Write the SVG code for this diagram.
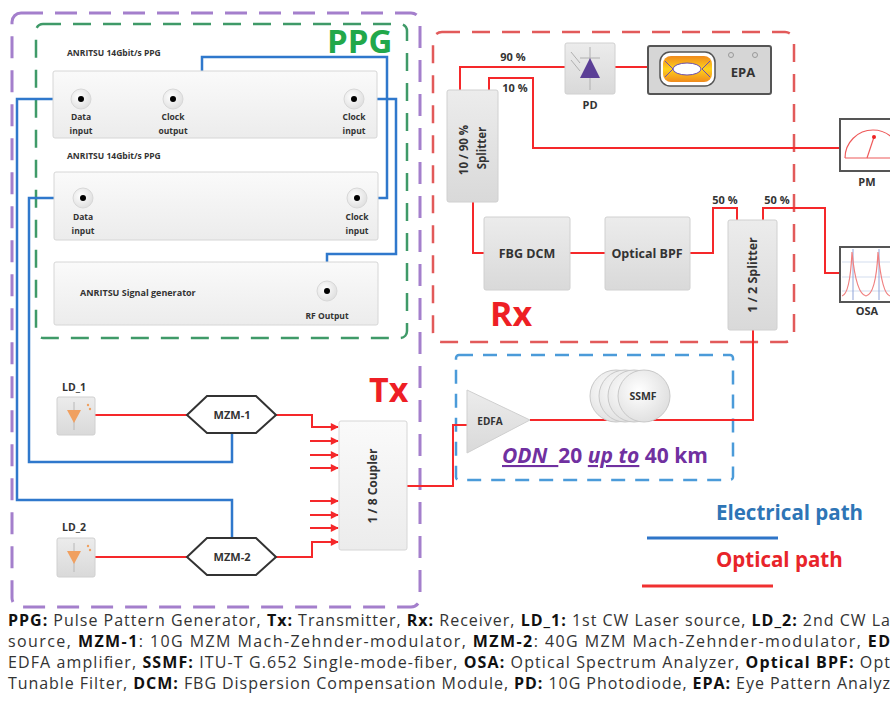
<svg xmlns="http://www.w3.org/2000/svg" width="890" height="704" viewBox="0 0 890 704">
<defs>
  <style>
    .lbl{font-family:"Open Sans","Liberation Sans",sans-serif;font-weight:bold;fill:#333}
    .sm{font-size:8.5px;text-anchor:middle}
    .opt{stroke:#f5282a;stroke-width:2;fill:none}
    .ele{stroke:#2f78cc;stroke-width:2.5;fill:none}
    .box{fill:url(#g);stroke:#d6d6d6;stroke-width:1}
    .dev{fill:url(#g2);stroke:#d0d0d0;stroke-width:1}
    .cap{font-family:"Open Sans","Liberation Sans",sans-serif;font-size:16px;fill:#333}
    .cap tspan.b{font-weight:bold;fill:#111}
  </style>
  <linearGradient id="g" x1="0" y1="0" x2="0" y2="1">
    <stop offset="0" stop-color="#fafafa"/><stop offset="1" stop-color="#ececec"/>
  </linearGradient>
  <linearGradient id="g2" x1="0" y1="0" x2="0" y2="1">
    <stop offset="0" stop-color="#ececec"/><stop offset="1" stop-color="#d9d9d9"/>
  </linearGradient>
  <radialGradient id="port" cx="0.4" cy="0.4" r="0.7">
    <stop offset="0" stop-color="#ffffff"/><stop offset="1" stop-color="#dcdcdc"/>
  </radialGradient>
  <linearGradient id="eye" x1="0" y1="0" x2="0" y2="1">
    <stop offset="0" stop-color="#f08a1c"/><stop offset="0.5" stop-color="#ffd21a"/><stop offset="1" stop-color="#f08a1c"/>
  </linearGradient>
  <marker id="arr" viewBox="0 0 10 10" refX="9" refY="5" markerWidth="4.5" markerHeight="4" orient="auto">
    <path d="M0,0 L10,5 L0,10 z" fill="#f5282a"/>
  </marker>
  <g id="portsym">
    <circle r="10" fill="url(#port)" stroke="#d8d8d8"/>
    <circle r="3" fill="#000"/>
  </g>
</defs>

<rect width="890" height="704" fill="#fff"/>

<!-- group frames -->
<g id="frames" fill="none">
  <rect x="12" y="13" width="408" height="594" rx="9" stroke="#a47fcc" stroke-width="3" stroke-dasharray="22 12"/>
  <rect x="36" y="24" width="371" height="314" rx="7" stroke="#3f9a68" stroke-width="2.5" stroke-dasharray="18 12"/>
  <rect x="433" y="32" width="361" height="310" rx="9" stroke="#e25a5a" stroke-width="2.5" stroke-dasharray="18 12"/>
  <rect x="456" y="355" width="277" height="125" rx="3" stroke="#4b9bd9" stroke-width="2.5" stroke-dasharray="14 10"/>
</g>

<!-- section titles -->
<g id="titles" font-family="'Open Sans','Liberation Sans',sans-serif" font-weight="bold">
  <text x="327" y="53" font-size="33" fill="#22a84a">PPG</text>
  <text x="490" y="326" font-size="34" fill="#ee1f25">Rx</text>
  <text x="369" y="402" font-size="34" fill="#ee1f25">Tx</text>
</g>

<!-- connectors -->
<g id="connectors">
  <!-- electrical -->
  <path class="ele" d="M81,99 H17 V500 H232 V538"/>
  <path class="ele" d="M83,198 H29 V462 H232 V433"/>
  <path class="ele" d="M173,99 H202 V57 H387 V198 H357"/>
  <path class="ele" d="M354,99 H396 V254 H327 V291"/>
  <!-- optical -->
  <path class="opt" d="M460,90 V67 H565"/>
  <path class="opt" d="M489,90 V78 H533 V148 H842"/>
  <path class="opt" d="M615,67 H648"/>
  <path class="opt" d="M473,202 V253 H484"/>
  <path class="opt" d="M570,253 H605"/>
  <path class="opt" d="M690,253 H713 V208 H737 V220"/>
  <path class="opt" d="M763,220 V208 H825 V273 H840"/>
  <path class="opt" d="M753,330 V420 H530"/>
  <path class="opt" d="M407,486 H453 V425 H467"/>
  <path class="opt" d="M95,415 H187"/>
  <path class="opt" d="M95,557 H187"/>
  <path class="opt" d="M276,415 H312 V427 H338" marker-end="url(#arr)"/>
  <path class="opt" d="M276,557 H312 V542 H338" marker-end="url(#arr)"/>
  <path class="opt" d="M310,441 H338" marker-end="url(#arr)"/>
  <path class="opt" d="M310,455 H338" marker-end="url(#arr)"/>
  <path class="opt" d="M310,468 H338" marker-end="url(#arr)"/>
  <path class="opt" d="M310,501 H338" marker-end="url(#arr)"/>
  <path class="opt" d="M310,515 H338" marker-end="url(#arr)"/>
  <path class="opt" d="M310,528 H338" marker-end="url(#arr)"/>
</g>

<!-- link labels -->
<g id="linklabels" class="lbl" font-size="11">
  <text x="513" y="61" text-anchor="middle">90 %</text>
  <text x="515" y="92" text-anchor="middle">10 %</text>
  <text x="725" y="204" text-anchor="middle">50 %</text>
  <text x="777" y="204" text-anchor="middle">50 %</text>
</g>

<!-- PPG 1 -->
<g id="ppg1">
  <text class="lbl" x="67" y="56" font-size="8.5">ANRITSU 14Gbit/s PPG</text>
  <rect class="box" x="53" y="71" width="324" height="67" rx="2"/>
  <use href="#portsym" x="81" y="99"/>
  <use href="#portsym" x="173" y="99"/>
  <use href="#portsym" x="354" y="99"/>
  <g class="lbl sm">
    <text x="81" y="120">Data</text><text x="81" y="134">input</text>
    <text x="173" y="120">Clock</text><text x="173" y="134">output</text>
    <text x="354" y="120">Clock</text><text x="354" y="134">input</text>
  </g>
</g>

<!-- PPG 2 -->
<g id="ppg2">
  <text class="lbl" x="67" y="159" font-size="8.5">ANRITSU 14Gbit/s PPG</text>
  <rect class="box" x="54" y="172" width="324" height="68" rx="2"/>
  <use href="#portsym" x="83" y="198"/>
  <use href="#portsym" x="357" y="198"/>
  <g class="lbl sm">
    <text x="83" y="220">Data</text><text x="83" y="234">input</text>
    <text x="357" y="220">Clock</text><text x="357" y="234">input</text>
  </g>
</g>

<!-- signal generator -->
<g id="siggen">
  <rect class="box" x="54" y="262" width="324" height="63" rx="2"/>
  <text class="lbl" x="80" y="296" font-size="9">ANRITSU Signal generator</text>
  <use href="#portsym" x="327" y="291"/>
  <text class="lbl sm" x="327" y="319">RF Output</text>
</g>

<!-- 10/90 splitter -->
<g id="splitter1090">
  <rect class="dev" x="447" y="90" width="51" height="112" rx="2"/>
  <g class="lbl" font-size="11.5" text-anchor="middle">
    <text transform="translate(468,150) rotate(-90)">10 / 90 %</text>
    <text transform="translate(486,148) rotate(-90)">Splitter</text>
  </g>
</g>

<!-- photodiode -->
<g id="pd">
  <rect class="dev" x="565" y="43" width="50" height="51" rx="2"/>
  <line x1="590" y1="47" x2="590" y2="90" stroke="#b0b0b0" stroke-width="1"/>
  <line x1="580" y1="58" x2="600" y2="58" stroke="#b0b0b0" stroke-width="1"/>
  <line x1="571" y1="52" x2="580" y2="63" stroke="#b0b0b0" stroke-width="1"/>
  <line x1="571" y1="60" x2="580" y2="71" stroke="#b0b0b0" stroke-width="1"/>
  <path d="M590,58 L600,78 L580,78 z" fill="#5b3f96"/>
  <text class="lbl" x="590" y="109" font-size="11" text-anchor="middle">PD</text>
</g>

<!-- eye pattern analyzer -->
<g id="epa">
  <rect x="648" y="46" width="123" height="48" rx="2" fill="#d6d6d6" stroke="#555" stroke-width="2"/>
  <rect x="660" y="52" width="55" height="34" rx="10" fill="#fff" stroke="#555" stroke-width="1.5"/>
  <rect x="663" y="56" width="49" height="26" rx="8" fill="url(#eye)"/>
  <ellipse cx="687" cy="69" rx="14" ry="6" fill="#fff" stroke="#6a4fb0" stroke-width="1"/>
  <path d="M665,61 L673,69 L665,77 M710,61 L702,69 L710,77" stroke="#6a4fb0" stroke-width="1" fill="none"/>
  <circle cx="731" cy="55" r="2.5" fill="none" stroke="#999"/>
  <circle cx="755" cy="55" r="2.5" fill="none" stroke="#999"/>
  <text class="lbl" x="743" y="77" font-size="13" text-anchor="middle">EPA</text>
</g>

<!-- power meter -->
<g id="pm">
  <rect x="840" y="119" width="60" height="52" fill="#fff" stroke="#555" stroke-width="2"/>
  <path d="M845,158 A28,28 0 0 1 901,158" fill="none" stroke="#ee5a5a" stroke-width="1.2"/>
  <line x1="845" y1="158" x2="890" y2="158" stroke="#ee5a5a" stroke-width="1.2"/>
  <line x1="867" y1="158" x2="874" y2="137" stroke="#ee5a5a" stroke-width="1.2"/>
  <circle cx="874" cy="137" r="2" fill="#e22"/>
  <text class="lbl" x="867" y="186" font-size="11" text-anchor="middle">PM</text>
</g>

<!-- FBG DCM -->
<g id="fbgdcm">
  <rect class="dev" x="484" y="217" width="86" height="73" rx="2"/>
  <text class="lbl" x="527" y="258" font-size="12.5" text-anchor="middle">FBG DCM</text>
</g>

<!-- optical BPF -->
<g id="bpf">
  <rect class="dev" x="605" y="217" width="85" height="73" rx="2"/>
  <text class="lbl" x="647" y="258" font-size="12.5" text-anchor="middle">Optical BPF</text>
</g>

<!-- 1/2 splitter -->
<g id="splitter12">
  <rect class="dev" x="728" y="220" width="49" height="110" rx="2"/>
  <text class="lbl" transform="translate(757,275) rotate(-90)" font-size="12.5" text-anchor="middle">1 / 2 Splitter</text>
</g>

<!-- optical spectrum analyzer -->
<g id="osa">
  <rect x="840" y="247" width="60" height="55" fill="#fff" stroke="#555" stroke-width="2"/>
  <g stroke="#c8d4ea" stroke-width="0.8">
    <line x1="842" y1="262" x2="890" y2="262"/><line x1="842" y1="277" x2="890" y2="277"/><line x1="842" y1="291" x2="890" y2="291"/>
  </g>
  <line x1="853" y1="249" x2="853" y2="300" stroke="#8fa3d8" stroke-width="1"/>
  <line x1="879" y1="249" x2="879" y2="300" stroke="#8fa3d8" stroke-width="1"/>
  <path d="M842,296 Q850,294 852,252 Q856,294 866,296 Q876,294 878,252 Q882,294 890,296" fill="none" stroke="#f08080" stroke-width="1.2"/>
  <text class="lbl" x="867" y="315" font-size="11" text-anchor="middle">OSA</text>
</g>

<!-- EDFA -->
<g id="edfa">
  <path d="M467,390 L530,420 L467,453 z" fill="url(#g2)" stroke="#cfcfcf"/>
  <text class="lbl" x="490" y="425" font-size="10" text-anchor="middle">EDFA</text>
</g>

<!-- SSMF spools -->
<g id="ssmf" fill="url(#port)" stroke="#c8c8c8">
  <circle cx="616" cy="396" r="26"/>
  <circle cx="625" cy="396" r="26"/>
  <circle cx="634" cy="396" r="26"/>
  <circle cx="644" cy="396" r="26"/>
  <text class="lbl" x="643" y="400" font-size="10.5" text-anchor="middle" stroke="none">SSMF</text>
</g>

<!-- ODN label -->
<g id="odn">
  <text x="502" y="463" font-family="'Open Sans','Liberation Sans',sans-serif" font-size="21" font-weight="bold" fill="#7030a0"><tspan font-style="italic" text-decoration="underline">ODN&#160;&#160;</tspan>20 <tspan font-style="italic" text-decoration="underline">up to</tspan> 40 km</text>
</g>

<!-- laser 1 -->
<g id="ld1">
  <text class="lbl" x="74" y="391" font-size="10.5" text-anchor="middle">LD_1</text>
  <rect class="dev" x="57" y="397" width="38" height="38" rx="2"/>
  <line x1="74" y1="402" x2="74" y2="430" stroke="#b8b8b8" stroke-width="1"/>
  <path d="M67,410 L81,410 L74,423 z" fill="#f0a060"/>
  <circle cx="88" cy="405" r="1.2" fill="#f0a060"/><circle cx="90" cy="409" r="1.2" fill="#f0a060"/>
</g>

<!-- laser 2 -->
<g id="ld2">
  <text class="lbl" x="74" y="531" font-size="10.5" text-anchor="middle">LD_2</text>
  <rect class="dev" x="57" y="538" width="38" height="39" rx="2"/>
  <line x1="74" y1="543" x2="74" y2="572" stroke="#b8b8b8" stroke-width="1"/>
  <path d="M67,551 L81,551 L74,564 z" fill="#f0a060"/>
  <circle cx="88" cy="546" r="1.2" fill="#f0a060"/><circle cx="90" cy="550" r="1.2" fill="#f0a060"/>
</g>

<!-- modulator 1 -->
<g id="mzm1">
  <path d="M187,415 L207,396 L256,396 L276,415 L256,433 L207,433 z" fill="#fff" stroke="#333" stroke-width="2"/>
  <text class="lbl" x="232" y="419" font-size="11" text-anchor="middle">MZM-1</text>
</g>

<!-- modulator 2 -->
<g id="mzm2">
  <path d="M187,557 L207,538 L256,538 L276,557 L256,575 L207,575 z" fill="#fff" stroke="#333" stroke-width="2"/>
  <text class="lbl" x="232" y="561" font-size="11" text-anchor="middle">MZM-2</text>
</g>

<!-- 1/8 coupler -->
<g id="coupler">
  <rect class="box" x="339" y="421" width="68" height="129" rx="2"/>
  <text class="lbl" transform="translate(377,486) rotate(-90)" font-size="12" text-anchor="middle">1 / 8 Coupler</text>
</g>

<!-- legend -->
<g id="legend" font-family="'Open Sans','Liberation Sans',sans-serif" font-weight="bold" font-size="20.5">
  <text x="716" y="520" fill="#2e75b6">Electrical path</text>
  <line x1="647" y1="538" x2="778" y2="538" stroke="#2e75c8" stroke-width="3"/>
  <text x="716" y="567" fill="#e8242a">Optical path</text>
  <line x1="642" y1="586" x2="773" y2="586" stroke="#f03030" stroke-width="3"/>
</g>

<!-- caption -->
<g id="caption" class="cap">
  <text x="8" y="626" textLength="882" lengthAdjust="spacing"><tspan class="b">PPG:</tspan> Pulse Pattern Generator, <tspan class="b">Tx:</tspan> Transmitter, <tspan class="b">Rx:</tspan> Receiver, <tspan class="b">LD_1:</tspan> 1st CW Laser source, <tspan class="b">LD_2:</tspan> 2nd CW La</text>
  <text x="8" y="647" textLength="882" lengthAdjust="spacing">source, <tspan class="b">MZM-1</tspan>: 10G MZM Mach-Zehnder-modulator, <tspan class="b">MZM-2</tspan>: 40G MZM Mach-Zehnder-modulator, <tspan class="b">ED</tspan></text>
  <text x="8" y="668" textLength="882" lengthAdjust="spacing">EDFA amplifier, <tspan class="b">SSMF:</tspan> ITU-T G.652 Single-mode-fiber, <tspan class="b">OSA:</tspan> Optical Spectrum Analyzer, <tspan class="b">Optical BPF:</tspan> Opt</text>
  <text x="8" y="689" textLength="882" lengthAdjust="spacing">Tunable Filter, <tspan class="b">DCM:</tspan> FBG Dispersion Compensation Module, <tspan class="b">PD:</tspan>  10G Photodiode, <tspan class="b">EPA:</tspan> Eye Pattern Analyz</text>
</g>
</svg>
